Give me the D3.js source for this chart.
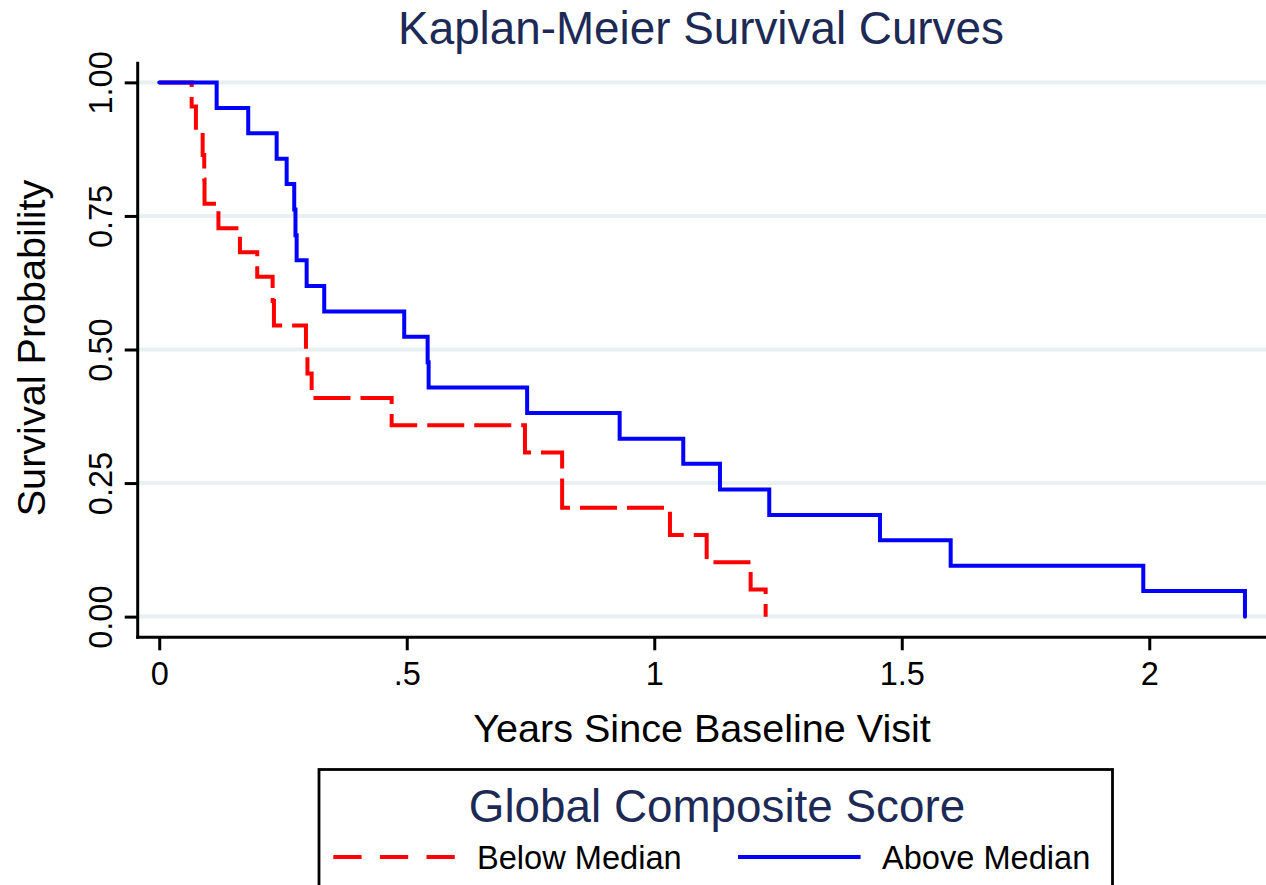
<!DOCTYPE html>
<html>
<head>
<meta charset="utf-8">
<script src="https://cdn.jsdelivr.net/npm/d3@7/dist/d3.min.js"></script>
<style>
  html, body { margin: 0; padding: 0; background: #fff; }
  svg { display: block; }
  text { font-family: "Liberation Sans", Arial, Helvetica, sans-serif; }
</style>
</head>
<body>
<svg id="chart" width="1266" height="885"></svg>
<script>
// ---- Data ----
const belowTimes = [0, 0.0655, 0.0741, 0.0877, 0.0909, 0.0915, 0.1196, 0.163, 0.198, 0.2291, 0.2317, 0.2964, 0.2994, 0.3079, 0.4695, 0.7388, 0.8139, 1.0317, 1.1059, 1.1947, 1.225];
const belowSurv  = [1, 0.955, 0.909, 0.864, 0.818, 0.773, 0.727, 0.682, 0.636, 0.591, 0.545, 0.5, 0.455, 0.409, 0.358, 0.307, 0.204, 0.153, 0.102, 0.051, 0];
const aboveTimes = [0, 0.116, 0.1798, 0.2372, 0.2574, 0.2727, 0.2752, 0.2776, 0.2978, 0.3333, 0.4949, 0.5422, 0.5442, 0.7432, 0.9301, 1.0586, 1.1327, 1.2323, 1.456, 1.5988, 1.9879, 2.1933];
const aboveSurv  = [1, 0.952, 0.905, 0.857, 0.810, 0.762, 0.714, 0.667, 0.619, 0.571, 0.524, 0.476, 0.429, 0.381, 0.333, 0.286, 0.238, 0.190, 0.143, 0.095, 0.048, 0];
const xTicks = [0, 0.5, 1, 1.5, 2];
const xTickLabels = ["0", ".5", "1", "1.5", "2"];
const yTicks = [0, 0.25, 0.5, 0.75, 1];
const yTickLabels = ["0.00", "0.25", "0.50", "0.75", "1.00"];
const seriesNames = ["Below Median", "Above Median"];
const chartTitle = "Kaplan-Meier Survival Curves";
const xTitle = "Years Since Baseline Visit";
const yTitle = "Survival Probability";
const legendTitle = "Global Composite Score";

// ---- Layout ----
const svg = d3.select("#chart");
const pLeft = 137.7, pRight = 1266, pTop = 61.7, pBottom = 637.3;
const x = d3.scaleLinear().domain([-0.0435, 2.2358]).range([pLeft, pRight]);
const y = d3.scaleLinear().domain([-0.0387, 1.0387]).range([pBottom, pTop]);
const navy = "#1c2a55";
const red = "#ff0000", blue = "#0000ff";

// gridlines
svg.append("g").selectAll("line").data(yTicks).join("line")
  .attr("x1", pLeft + 1.5).attr("x2", pRight)
  .attr("y1", d => y(d)).attr("y2", d => y(d))
  .attr("stroke", "#e9f0f2").attr("stroke-width", 4);

// curves
const line = d3.line().x(d => x(d[0])).y(d => y(d[1])).curve(d3.curveStepAfter);
const belowData = belowTimes.map((t, i) => [t, belowSurv[i]]);
const aboveData = aboveTimes.map((t, i) => [t, aboveSurv[i]]);

svg.append("path").datum(belowData).attr("d", line)
  .attr("fill", "none").attr("stroke", red).attr("stroke-width", 4)
  .attr("stroke-dasharray", "37,10").attr("stroke-linejoin", "miter");
svg.append("path").datum(aboveData).attr("d", line)
  .attr("fill", "none").attr("stroke", blue).attr("stroke-width", 4)
  .attr("stroke-linejoin", "miter").attr("stroke-linecap", "round");

// axes
const xAxis = d3.axisBottom(x).tickValues(xTicks)
  .tickFormat((d, i) => xTickLabels[i]).tickSize(13).tickSizeOuter(0).tickPadding(12);
const gx = svg.append("g").attr("transform", `translate(0,${pBottom})`).call(xAxis);
gx.select(".domain").attr("stroke", "#000").attr("stroke-width", 3)
  .attr("d", `M${pLeft - 1.5},0H${pRight}`);
gx.selectAll(".tick line").attr("stroke", "#000").attr("stroke-width", 3);
gx.selectAll(".tick text").attr("font-size", 32.5).attr("fill", "#000")
  .attr("font-family", "Liberation Sans, Arial, sans-serif");

const yAxis = d3.axisLeft(y).tickValues(yTicks)
  .tickFormat((d, i) => yTickLabels[i]).tickSize(13).tickSizeOuter(0);
const gy = svg.append("g").attr("transform", `translate(${pLeft},0)`).call(yAxis);
gy.select(".domain").attr("stroke", "#000").attr("stroke-width", 3)
  .attr("d", `M0,${pTop}V${pBottom + 1.5}`);
gy.selectAll(".tick line").attr("stroke", "#000").attr("stroke-width", 3);
gy.selectAll(".tick text")
  .attr("font-size", 32.5).attr("fill", "#000")
  .attr("font-family", "Liberation Sans, Arial, sans-serif")
  .attr("text-anchor", "middle")
  .attr("x", 0).attr("dy", null).attr("y", -25.5)
  .attr("transform", "rotate(-90)");

// titles
svg.append("text").attr("x", 701).attr("y", 44).attr("text-anchor", "middle")
  .attr("font-size", 45.8).attr("fill", navy).text(chartTitle);
svg.append("text").attr("x", 702).attr("y", 741.5).attr("text-anchor", "middle")
  .attr("font-size", 39.6).attr("fill", "#000").text(xTitle);
svg.append("text").attr("transform", `translate(44.5,${(pTop + pBottom) / 2 - 1.5}) rotate(-90)`)
  .attr("text-anchor", "middle").attr("font-size", 39.6).attr("fill", "#000").text(yTitle);

// legend
const lg = svg.append("g");
lg.append("rect").attr("x", 319).attr("y", 769.5).attr("width", 793.5).attr("height", 140)
  .attr("fill", "#fff").attr("stroke", "#000").attr("stroke-width", 2.8);
lg.append("text").attr("x", 717).attr("y", 822).attr("text-anchor", "middle")
  .attr("font-size", 45.8).attr("fill", navy).text(legendTitle);
const legendItems = [
  { name: seriesNames[0], color: red, dash: "28.3,18.3", x1: 333.3, x2: 456, tx: 477 },
  { name: seriesNames[1], color: blue, dash: null, x1: 738, x2: 860.6, tx: 882 }
];
legendItems.forEach(it => {
  lg.append("line").attr("x1", it.x1).attr("x2", it.x2).attr("y1", 857).attr("y2", 857)
    .attr("stroke", it.color).attr("stroke-width", 4)
    .attr("stroke-dasharray", it.dash);
  lg.append("text").attr("x", it.tx).attr("y", 869).attr("font-size", 32.6)
    .attr("fill", "#000").text(it.name);
});
</script>
</body>
</html>
